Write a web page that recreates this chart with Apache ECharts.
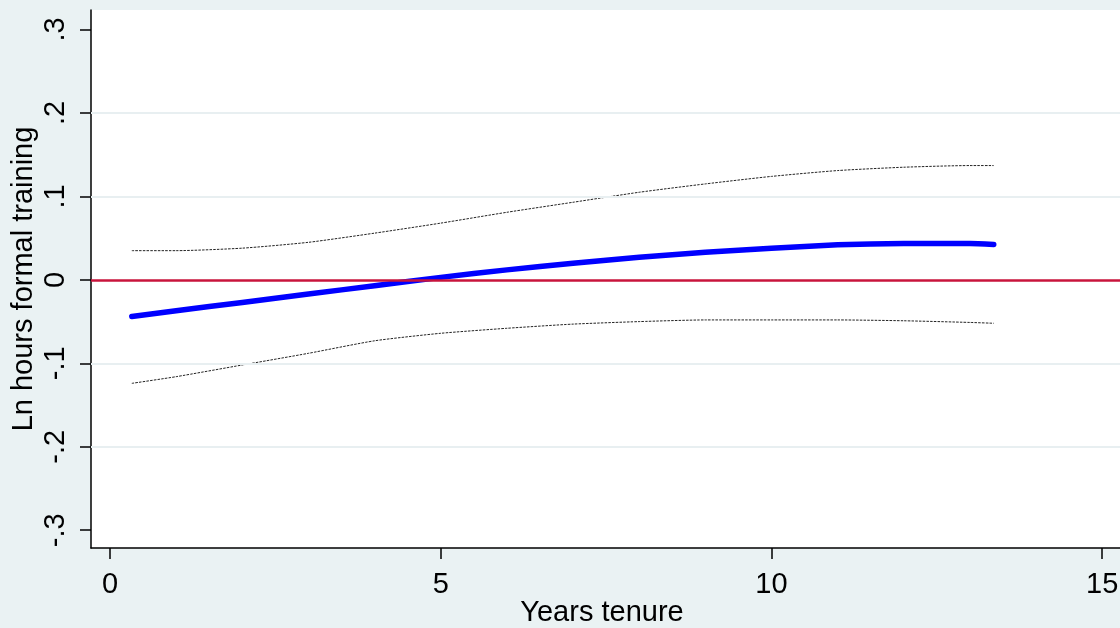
<!DOCTYPE html>
<html>
<head>
<meta charset="utf-8">
<script src="https://cdn.jsdelivr.net/npm/echarts@6/dist/echarts.min.js"></script>
<style>
html,body{margin:0;padding:0;background:#EAF2F3;}
#chart{width:1120px;height:628px;}
</style>
</head>
<body>
<div id="chart"></div>
<script>
// Data
const tenure = [0.33, 1, 2, 3, 4, 5, 6, 7, 8, 9, 10, 11, 12, 13, 13.36];
const fit    = [-0.044, -0.037, -0.027, -0.017, -0.007, 0.003, 0.012, 0.020, 0.027, 0.033, 0.038, 0.042, 0.0435, 0.0437, 0.0425];
const upper  = [0.035, 0.035, 0.038, 0.045, 0.056, 0.068, 0.081, 0.093, 0.105, 0.115, 0.124, 0.131, 0.135, 0.137, 0.137];
const lower  = [-0.124, -0.116, -0.102, -0.088, -0.073, -0.064, -0.058, -0.053, -0.050, -0.048, -0.048, -0.048, -0.049, -0.051, -0.052];

const xTickValues = [0, 5, 10, 15];
const xTickLabels = ['0', '5', '10', '15'];
const yTickValues = [-0.3, -0.2, -0.1, 0, 0.1, 0.2, 0.3];
const yTickLabels = ['-.3', '-.2', '-.1', '0', '.1', '.2', '.3'];
const yGridValues = [-0.2, -0.1, 0.1, 0.2];
const refLineValue = 0;

const xTitle = 'Years tenure';
const yTitle = 'Ln hours formal training';

const FONT = '"Liberation Sans", Arial, sans-serif';

function pairs(xs, ys) { return xs.map((x, i) => [x, ys[i]]); }
function lookup(vals, labels, v) {
  for (let i = 0; i < vals.length; i++) if (Math.abs(vals[i] - v) < 1e-9) return labels[i];
  return '';
}

const chart = echarts.init(document.getElementById('chart'), null, {renderer: 'canvas'});
chart.setOption({
  animation: false,
  backgroundColor: '#EAF2F3',
  grid: {
    left: 91, top: 10, width: 1040, height: 538,
    show: true, backgroundColor: '#ffffff', borderWidth: 0,
    containLabel: false,
    outerBoundsMode: 'none'
  },
  xAxis: {
    type: 'value',
    min: -0.287, max: 15.435,
    axisLine: {show: true, onZero: false, lineStyle: {color: '#000', width: 1.5}},
    axisTick: {show: true, length: 11, lineStyle: {color: '#000', width: 1.5}, customValues: xTickValues},
    axisLabel: {
      show: true, margin: 22, color: '#000', fontSize: 29, fontFamily: FONT,
      customValues: xTickValues,
      formatter: v => lookup(xTickValues, xTickLabels, v)
    },
    splitLine: {show: false}
  },
  yAxis: {
    type: 'value',
    min: -0.3213, max: 0.3234,
    axisLine: {show: true, onZero: false, lineStyle: {color: '#000', width: 1.5}},
    axisTick: {show: true, length: 11, lineStyle: {color: '#000', width: 1.5}, customValues: yTickValues},
    axisLabel: {
      show: true, rotate: 90, margin: 21, color: '#000', fontSize: 29, fontFamily: FONT,
      customValues: yTickValues,
      formatter: v => lookup(yTickValues, yTickLabels, v)
    },
    splitLine: {show: false}
  },
  graphic: [
    {type: 'text', x: 602, y: 613, silent: true,
     style: {text: xTitle, font: '29px ' + FONT, fill: '#000', textAlign: 'center', textVerticalAlign: 'middle'}},
    {type: 'text', x: 24, y: 279, rotation: Math.PI / 2, silent: true,
     style: {text: yTitle, font: '29px ' + FONT, fill: '#000', textAlign: 'center', textVerticalAlign: 'middle'}}
  ],
  series: [
    {
      type: 'line', data: [], z: 1, silent: true,
      markLine: {
        silent: true, symbol: 'none', animation: false,
        label: {show: false},
        lineStyle: {color: '#E8EFF1', width: 2, type: 'solid'},
        emphasis: {disabled: true},
        data: yGridValues.map(v => ({yAxis: v}))
      }
    },
    {
      type: 'line', data: [], z: 2, silent: true,
      markLine: {
        silent: true, symbol: 'none', animation: false,
        label: {show: false},
        lineStyle: {color: '#C8143C', width: 2.5, type: 'solid'},
        emphasis: {disabled: true},
        data: [{yAxis: refLineValue}]
      }
    },
    {
      type: 'line', data: pairs(tenure, upper), z: 3, silent: true,
      showSymbol: false, smooth: 0.2,
      lineStyle: {color: '#222222', width: 1, type: [2.5, 1.2]}
    },
    {
      type: 'line', data: pairs(tenure, lower), z: 3, silent: true,
      showSymbol: false, smooth: 0.2,
      lineStyle: {color: '#222222', width: 1, type: [2.5, 1.2]}
    },
    {
      type: 'line', data: pairs(tenure, fit), z: 4, silent: true,
      showSymbol: false, smooth: 0.2,
      lineStyle: {color: '#0000FF', width: 5.5, cap: 'round'}
    }
  ]
});
</script>
</body>
</html>
